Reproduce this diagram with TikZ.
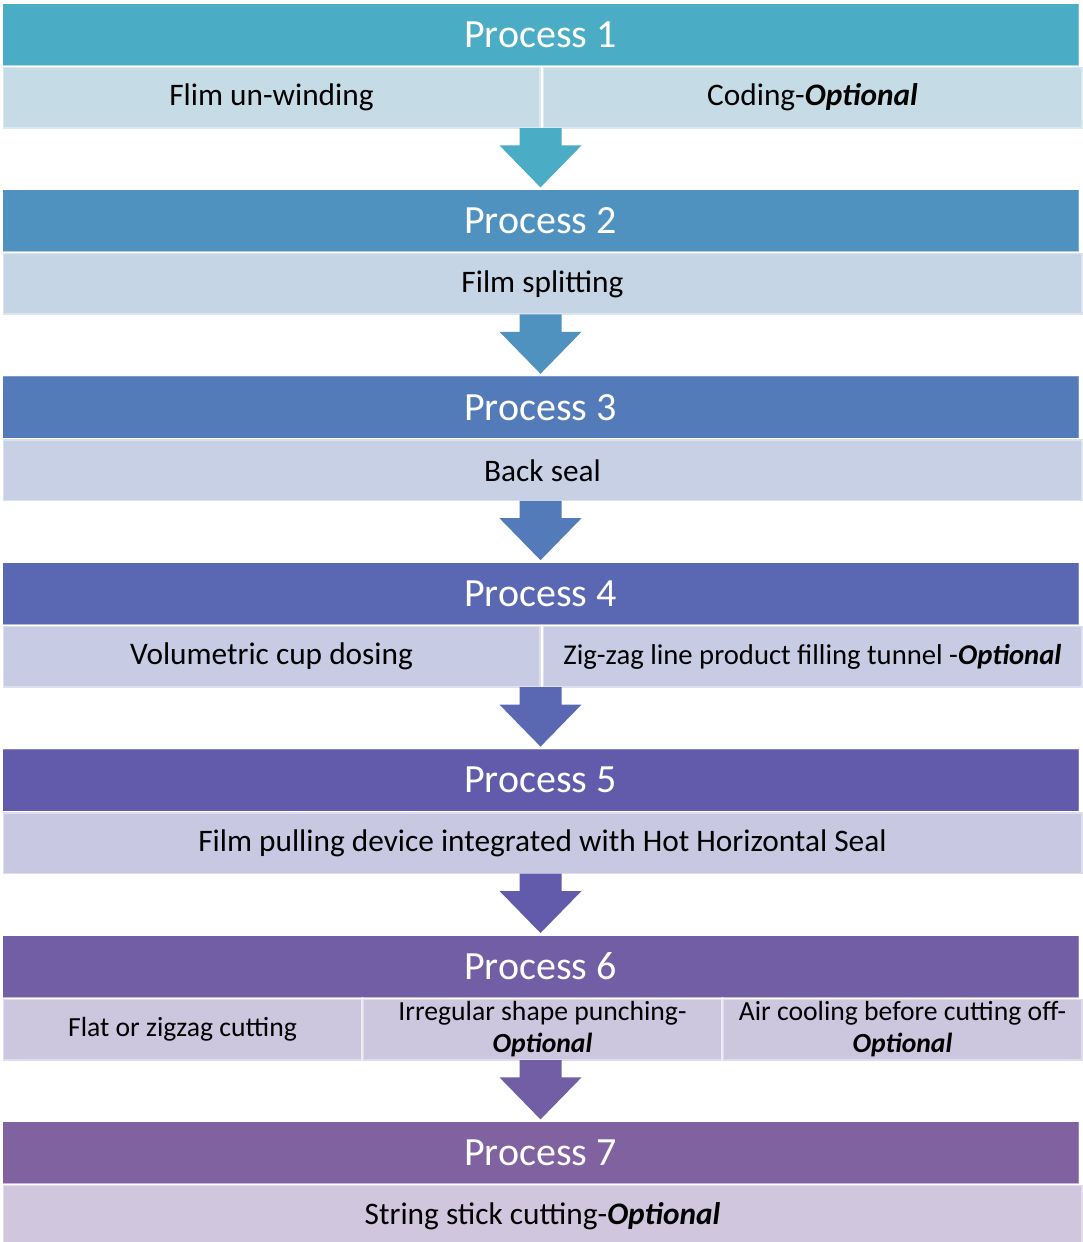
\documentclass[tikz,border=0pt]{standalone}
\usepackage{fontspec}
\setmainfont{Carlito}
\usetikzlibrary{calc}
\definecolor{h1}{HTML}{4BACC6}
\definecolor{h2}{HTML}{4F92C0}
\definecolor{h3}{HTML}{547BB9}
\definecolor{h4}{HTML}{5A68B4}
\definecolor{h5}{HTML}{625BAC}
\definecolor{h6}{HTML}{725EA5}
\definecolor{h7}{HTML}{8062A0}
\definecolor{s1}{HTML}{C5DCE6}
\definecolor{s2}{HTML}{C6D5E5}
\definecolor{s3}{HTML}{C7D0E5}
\definecolor{s4}{HTML}{C8CBE4}
\definecolor{s5}{HTML}{C9C8E2}
\definecolor{s6}{HTML}{CCC6DF}
\definecolor{s7}{HTML}{D0C6DE}
\newcommand\optl{\textbf{\textit{Optional}}}
\newcommand\blockarrow[3]{%
  \fill[#3] let \p1=(#1.south), \p2=(#2.north) in
    (\x2-15.75pt,\y1+1.5pt) -- (\x2+15.75pt,\y1+1.5pt) -- (\x2+15.75pt,\y2+33pt)
    -- (\x2+30.75pt,\y2+33pt) -- (\x2,\y2+1.5pt) -- (\x2-30.75pt,\y2+33pt)
    -- (\x2-15.75pt,\y2+33pt) -- cycle;}
\tikzset{
  hdr/.style={anchor=north west, inner sep=0pt, minimum width=1076*0.75pt,
    minimum height=62*0.75pt, text=white, draw=white, draw opacity=0.25, line width=0.75pt,
    font=\fontsize{30}{36}\selectfont},
  rowbox/.style={anchor=north west, inner sep=0pt, minimum height=62*0.75pt,
    draw=white, draw opacity=0.4, line width=2.25pt, text=black, align=center,
    font=\fontsize{23.5}{26}\selectfont},
  fullrow/.style={rowbox, minimum width=1080*0.75pt},
  halfL/.style={rowbox, minimum width=538*0.75pt},
  halfR/.style={rowbox, minimum width=540*0.75pt},
  third/.style={rowbox, minimum width=360*0.75pt, font=\fontsize{20.75}{24}\selectfont},
  ghost/.style={fullrow, draw=none, fill=none},
}
\begin{document}
\begin{tikzpicture}[x=0.75pt,y=-0.75pt]
\useasboundingbox (0,0) rectangle (1082,1242);
\fill[white] (0,0) rectangle (1082,1242);
% Process 1
\node[hdr, fill=h1] (h1) at (2,3) {Process 1};
\node[ghost] (r1) at (1,65) {};
\node[halfL, fill=s1] (c1a) at (1,65) {Flim un-winding};
\node[halfR, fill=s1] (c1b) at (541,65) {Coding-\optl};
% Process 2
\node[hdr, fill=h2] (h2) at (2,189.4) {Process 2};
\node[fullrow, fill=s2] (r2) at (1,251.4) {Film splitting};
% Process 3
\node[hdr, fill=h3] (h3) at (2,375.8) {Process 3};
\node[fullrow, fill=s3] (r3) at (1,437.8) {Back seal};
% Process 4
\node[hdr, fill=h4] (h4) at (2,562.2) {Process 4};
\node[ghost] (r4) at (1,624.2) {};
\node[halfL, fill=s4] (c4a) at (1,624.2) {Volumetric cup dosing};
\node[halfR, fill=s4, font=\fontsize{21.5}{24}\selectfont] (c4b) at (541,624.2) {Zig-zag line product filling tunnel -\optl};
% Process 5
\node[hdr, fill=h5] (h5) at (2,748.6) {Process 5};
\node[fullrow, fill=s5] (r5) at (1,810.6) {Film pulling device integrated with Hot Horizontal Seal};
% Process 6
\node[hdr, fill=h6] (h6) at (2,935) {Process 6};
\node[ghost] (r6) at (1,997) {};
\node[third, fill=s6] (c6a) at (1,997) {Flat or zigzag cutting};
\node[third, fill=s6] (c6b) at (361,997) {Irregular shape punching-\\\optl};
\node[third, fill=s6] (c6c) at (721,997) {Air cooling before cutting off-\\\optl};
% Process 7
\node[hdr, fill=h7] (h7) at (2,1121.4) {Process 7};
\node[fullrow, fill=s7] (r7) at (1,1183.4) {String stick cutting-\optl};
% arrows
\blockarrow{r1}{h2}{h1}
\blockarrow{r2}{h3}{h2}
\blockarrow{r3}{h4}{h3}
\blockarrow{r4}{h5}{h4}
\blockarrow{r5}{h6}{h5}
\blockarrow{r6}{h7}{h6}
\end{tikzpicture}
\end{document}
